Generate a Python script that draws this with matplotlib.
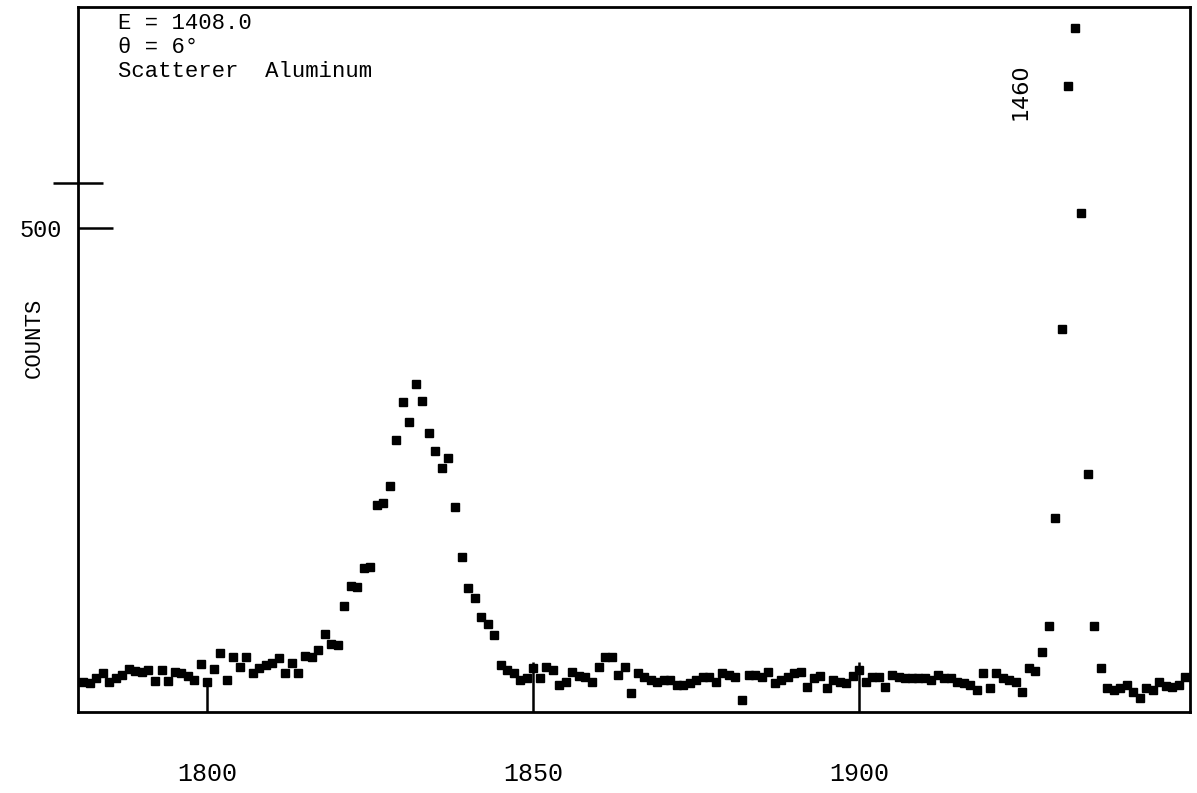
import numpy as np
import matplotlib.pyplot as plt

# channel numbers and counts
channels = np.arange(1781, 1951)
counts = [
    34, 33, 38, 43, 34, 38, 41, 47, 45, 44,
    46, 35, 46, 35, 44, 43, 40, 36, 52, 34,
    47, 64, 36, 60, 49, 60, 43, 48, 51, 53,
    58, 43, 53, 43, 61, 60, 67, 83, 73, 72,
    112, 132, 131, 151, 152, 216, 218, 235, 282, 321,
    301, 340, 322, 290, 271, 254, 264, 214, 162, 130,
    120, 101, 93, 82, 51, 46, 43, 36, 38, 48,
    38, 49, 46, 31, 34, 44, 40, 39, 34, 49,
    59, 59, 41, 49, 23, 43, 39, 36, 34, 36,
    36, 31, 31, 33, 36, 39, 39, 34, 43, 41,
    39, 15, 41, 41, 39, 44, 33, 36, 39, 43,
    44, 29, 38, 40, 28, 36, 34, 33, 40, 46,
    34, 39, 39, 29, 41, 39, 38, 38, 38, 38,
    36, 41, 38, 38, 34, 33, 31, 26, 43, 28,
    43, 38, 36, 34, 24, 48, 45, 65, 91, 202,
    396, 646, 705, 515, 247, 91, 48, 28, 26, 28,
    31, 24, 17, 28, 26, 34, 30, 29, 31, 39,
]

x_long_ticks = [1850, 1900]
x_short_ticks = [1800]
y_label_tick = 500
y_stub_tick = 546

header = "E = 1408.0\n\u03b8 = 6\u00b0\nScatterer  Aluminum"
peak_label = "1460"

mono = "Liberation Mono"

fig = plt.figure(figsize=(11.97, 7.93), dpi=100)
ax = fig.add_axes([0.0652, 0.1021, 0.9290, 0.8891])

ax.plot(channels, counts, linestyle="none", marker="s", markersize=6,
        color="black")

ax.set_xlim(1780.2, 1950.7)
ax.set_ylim(3, 727)

for side in ["left", "right", "top", "bottom"]:
    ax.spines[side].set_linewidth(2)

# x ticks: the outer two are long, the 1800 one shorter
ax.set_xticks(x_long_ticks)
ax.set_xticks(x_short_ticks, minor=True)
ax.set_xticklabels([str(t) for t in x_long_ticks])
ax.set_xticklabels([str(t) for t in x_short_ticks], minor=True)
ax.tick_params(axis="x", which="major", direction="in", length=36, width=1.8,
               pad=36, labelsize=18)
ax.tick_params(axis="x", which="minor", direction="in", length=23, width=1.8,
               pad=36, labelsize=18)
for lab in ax.get_xticklabels(which="both"):
    lab.set_family(mono)
    lab.set_x(lab.get_position()[0])

# y ticks: labelled 500 inward, plus an unlabelled stub crossing the spine
ax.set_yticks([y_label_tick])
ax.set_yticks([y_stub_tick], minor=True)
ax.set_yticklabels([str(y_label_tick)])
ax.tick_params(axis="y", which="major", direction="in", length=25, width=1.8,
               pad=12, labelsize=17)
ax.tick_params(axis="y", which="minor", direction="inout", length=36,
               width=1.8)
for lab in ax.get_yticklabels():
    lab.set_family(mono)

ax.set_ylabel("COUNTS", family=mono, fontsize=16)
ax.yaxis.set_label_coords(-0.03, 0.53)

ax.text(0.036, 0.992, header, transform=ax.transAxes, family=mono,
        fontsize=16, va="top", ha="left", linespacing=1.2)
ax.text(0.848, 0.88, peak_label, transform=ax.transAxes, fontsize=16,
        rotation=90, va="center", ha="center")

plt.savefig("out.png", dpi=100)
